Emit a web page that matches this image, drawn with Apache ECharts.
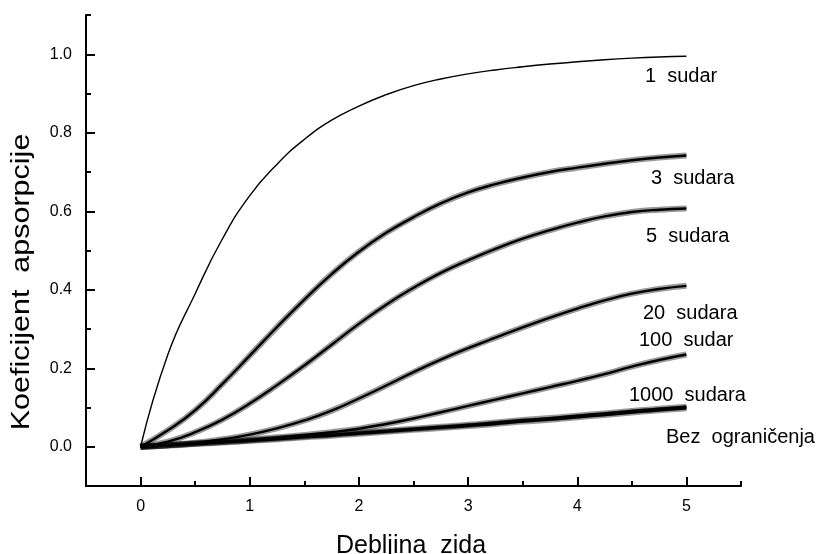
<!DOCTYPE html>
<html>
<head>
<meta charset="utf-8">
<script src="https://cdn.jsdelivr.net/npm/echarts@6/dist/echarts.min.js"></script>
<style>
  html, body { margin: 0; padding: 0; background: #fff; }
  #chart { width: 818px; height: 554px; }
</style>
</head>
<body>
<div id="chart"></div>
<script>
// debljina zida (x)
const thickness = [0, 0.25, 0.5, 0.75, 1, 1.25, 1.5, 1.75, 2, 2.25, 2.5, 2.75, 3, 3.25, 3.5, 3.75, 4, 4.25, 4.5, 4.75, 5];

// koeficijent apsorpcije
const sudar1 = [0, 0.235, 0.39, 0.53, 0.64, 0.72, 0.783, 0.832, 0.868, 0.897, 0.92, 0.937, 0.95, 0.96, 0.968, 0.975, 0.981, 0.986, 0.99, 0.993, 0.995];
const sudara3 = [0, 0.042, 0.093, 0.16, 0.232, 0.305, 0.375, 0.44, 0.497, 0.545, 0.585, 0.62, 0.648, 0.669, 0.686, 0.7, 0.711, 0.721, 0.73, 0.737, 0.742];
const sudara5 = [0, 0.013, 0.037, 0.069, 0.11, 0.157, 0.207, 0.26, 0.313, 0.362, 0.405, 0.443, 0.475, 0.504, 0.53, 0.552, 0.571, 0.587, 0.598, 0.604, 0.607];
const sudara20 = [0, 0.004, 0.01, 0.019, 0.031, 0.047, 0.067, 0.092, 0.123, 0.156, 0.19, 0.222, 0.251, 0.278, 0.304, 0.329, 0.352, 0.373, 0.39, 0.402, 0.41];
const sudar100 = [0, 0.004, 0.008, 0.013, 0.018, 0.024, 0.03, 0.037, 0.046, 0.058, 0.072, 0.088, 0.104, 0.12, 0.136, 0.152, 0.168, 0.185, 0.204, 0.221, 0.235];
const sudara1000 = [0, 0.004, 0.008, 0.012, 0.016, 0.021, 0.026, 0.031, 0.036, 0.041, 0.046, 0.051, 0.056, 0.062, 0.068, 0.073, 0.079, 0.085, 0.091, 0.097, 0.102];
const bezOgranicenja = [0, 0.003, 0.007, 0.011, 0.015, 0.019, 0.024, 0.028, 0.033, 0.038, 0.043, 0.048, 0.053, 0.058, 0.064, 0.069, 0.075, 0.081, 0.087, 0.093, 0.098];

const xMajorTicks = [0, 1, 2, 3, 4, 5];
const xMinorTicks = [-0.5, 0.5, 1.5, 2.5, 3.5, 4.5, 5.5];
const yMajorTicks = [0, 0.2, 0.4, 0.6, 0.8, 1.0];
const yMinorTicks = [0.1, 0.3, 0.5, 0.7, 0.9, 1.1];

const curveNames = ['1  sudar', '3  sudara', '5  sudara', '20  sudara', '100  sudar', '1000  sudara', 'Bez  ograničenja'];
const curveValues = [sudar1, sudara3, sudara5, sudara20, sudar100, sudara1000, bezOgranicenja];

const font = 'Liberation Sans, Arial, Helvetica, sans-serif';

const chart = echarts.init(document.getElementById('chart'));

function pairs(vals) {
  return thickness.map((x, i) => [x, vals[i]]);
}

const series = [];
curveValues.forEach((vals, i) => {
  const noisy = i > 0;
  if (noisy) {
    // grey halo standing in for the noise band
    series.push({
      type: 'line', data: pairs(vals), smooth: true, symbol: 'none', silent: true,
      lineStyle: { color: 'rgba(0,0,0,0.4)', width: 6 }, z: 2
    });
  }
  series.push({
    name: curveNames[i], type: 'line', data: pairs(vals), smooth: true, symbol: 'none',
    lineStyle: { color: '#000', width: noisy ? 2.4 : 1.4 }, z: 3
  });
});

// curve labels
const labels = [
  { text: '1  sudar', left: 645, cy: 76 },
  { text: '3  sudara', left: 651, cy: 178 },
  { text: '5  sudara', left: 646, cy: 236 },
  { text: '20  sudara', left: 643, cy: 313 },
  { text: '100  sudar', left: 639, cy: 340 },
  { text: '1000  sudara', left: 629, cy: 395 },
  { text: 'Bez  ograničenja', left: 666, cy: 437 }
];

const graphic = labels.map(l => ({
  type: 'text', x: l.left, y: l.cy, silent: true,
  style: { text: l.text, fill: '#000', font: '20px ' + font, textAlign: 'left', textVerticalAlign: 'middle' }
}));
graphic.push({
  type: 'text', x: 22, y: 282, rotation: Math.PI / 2, scaleX: 1.22, silent: true,
  style: { text: 'Koeficijent  apsorpcije', fill: '#000', font: '25px ' + font, textAlign: 'center', textVerticalAlign: 'middle' }
});
graphic.push({
  type: 'text', x: 411, y: 546, silent: true,
  style: { text: 'Debljina  zida', fill: '#000', font: '25px ' + font, textAlign: 'center', textVerticalAlign: 'middle' }
});

const tickRich = { t: { fontSize: 16, fontFamily: 'Liberation Sans', color: '#000' } };

function tickAxis(values, len) {
  return {
    splitLine: { show: false },
    axisLine: { show: false, onZero: false },
    axisTick: { show: true, inside: true, length: len, customValues: values, lineStyle: { color: '#000', width: 2 } },
    axisLabel: { show: false }
  };
}

chart.setOption({
  animation: false,
  backgroundColor: '#fff',
  grid: { left: 86, right: 77, top: 15, bottom: 68 },
  xAxis: [
    Object.assign({
      type: 'value', min: -0.5, max: 5.5, interval: 0.5, position: 'bottom'
    }, tickAxis(xMajorTicks, 9), {
      axisLine: { show: true, onZero: false, lineStyle: { color: '#000', width: 2 } },
      axisLabel: {
        show: true, margin: 13, fontSize: 16, rich: tickRich,
        formatter: v => (Math.abs(v - Math.round(v)) < 1e-6 ? '{t|' + Math.round(v) + '}' : '')
      }
    }),
    Object.assign({ type: 'value', min: -0.5, max: 5.5, position: 'bottom' }, tickAxis(xMinorTicks, 5))
  ],
  yAxis: [
    Object.assign({
      type: 'value', min: -0.1, max: 1.1, interval: 0.1, position: 'left'
    }, tickAxis(yMajorTicks, 9), {
      axisLine: { show: true, onZero: false, lineStyle: { color: '#000', width: 2 } },
      axisLabel: {
        show: true, margin: 14, fontSize: 16, rich: tickRich,
        formatter: v => {
          const k = Math.round(v * 10);
          return (k >= 0 && k % 2 === 0 && k <= 10) ? '{t|' + (k / 10).toFixed(1) + '}' : '';
        }
      }
    }),
    Object.assign({ type: 'value', min: -0.1, max: 1.1, position: 'left' }, tickAxis(yMinorTicks, 5))
  ],
  series: series,
  graphic: graphic
});
</script>
</body>
</html>
